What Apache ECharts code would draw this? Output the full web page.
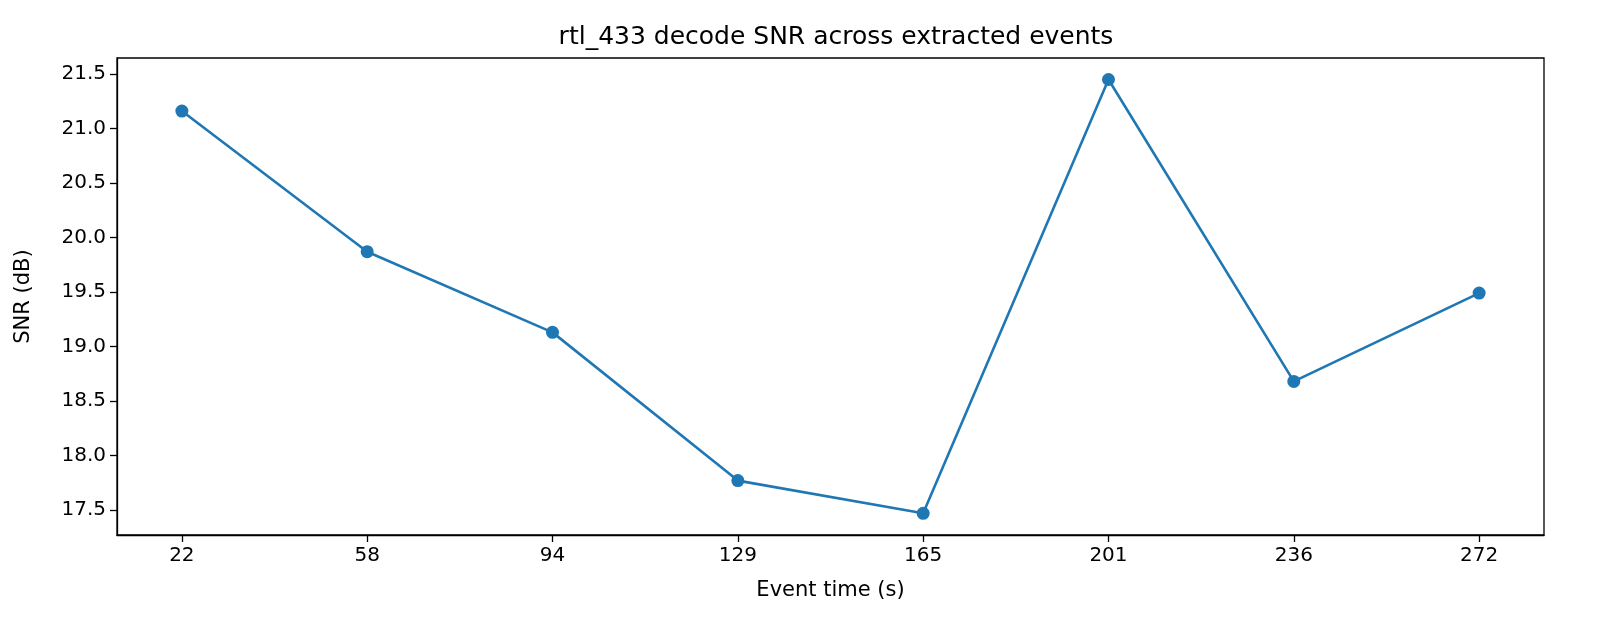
<!DOCTYPE html>
<html><head><meta charset="utf-8">
<script src="https://cdn.jsdelivr.net/npm/echarts@6/dist/echarts.min.js"></script>
<style>html,body{margin:0;padding:0;background:#fff;overflow:hidden}#c{width:1600px;height:640px}</style>
</head><body><div id="c"></div>
<script>
const categories = ['22','58','94','129','165','201','236','272'];
const snr = [21.16, 19.87, 19.13, 17.77, 17.47, 21.45, 18.68, 19.49];
const yTicks = [17.5, 18.0, 18.5, 19.0, 19.5, 20.0, 20.5, 21.0, 21.5];
const idx = categories.map((_, i) => i);
const font = 'DejaVu Sans';
const chart = echarts.init(document.getElementById('c'));
chart.setOption({
  animation: false,
  title: {text: 'rtl_433 decode SNR across extracted events', left: 831, textAlign: 'center', top: 20,
    textStyle: {fontFamily: font, fontSize: 25, fontWeight: 'normal', color: '#000'}},
  grid: {left: 117, right: 56, top: 58, bottom: 105},
  xAxis: {type: 'value', min: -0.35, max: 7.35,
    name: 'Event time (s)', nameLocation: 'middle', nameGap: 45,
    nameTextStyle: {fontFamily: font, fontSize: 21, color: '#000'},
    axisLine: {onZero: false, lineStyle: {color: '#000', width: 1.3}},
    axisTick: {show: true, customValues: idx, length: 7, lineStyle: {color: '#000', width: 1.3}},
    axisLabel: {customValues: idx, formatter: v => categories[Math.round(v)], fontFamily: font, fontSize: 20, color: '#000', margin: 11},
    splitLine: {show: false}},
  yAxis: {type: 'value', min: 17.271, max: 21.647,
    name: 'SNR (dB)', nameLocation: 'middle', nameGap: 83,
    nameTextStyle: {fontFamily: font, fontSize: 21, color: '#000'},
    axisLine: {show: true, onZero: false, lineStyle: {color: '#000', width: 1.3}},
    axisTick: {show: true, customValues: yTicks, length: 7, lineStyle: {color: '#000', width: 1.3}},
    axisLabel: {customValues: yTicks, formatter: v => v.toFixed(1), fontFamily: font, fontSize: 20, color: '#000', margin: 11},
    splitLine: {show: false}},
  series: [{type: 'line', data: idx.map(i => [i, snr[i]]),
    symbol: 'circle', symbolSize: 13,
    lineStyle: {color: '#1f77b4', width: 2.6}, itemStyle: {color: '#1f77b4'}}],
  graphic: [{type: 'rect', shape: {x: 117, y: 58, width: 1427, height: 477}, style: {fill: 'none', stroke: '#000', lineWidth: 1.3}, silent: true}]
});
</script></body></html>
